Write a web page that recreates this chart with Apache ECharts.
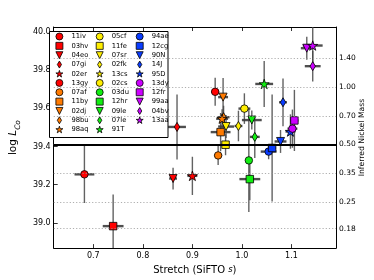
<!DOCTYPE html>
<html><head><meta charset="utf-8">
<script src="https://cdn.jsdelivr.net/npm/echarts@6/dist/echarts.min.js"></script>
<style>html,body{margin:0;padding:0;background:#fff}#c{width:374px;height:280px}</style>
</head><body><div id="c"></div>
<script>
// ---------------- data ----------------
const snNames = ['11iv','03hv','04eo','07gi','02er','13gy','07af','11by','02dj','98bu','98aq',
  '05cf','11fe','07sr','02fk','13cs','02cs','03du','12hr','09le','07le','91T',
  '94ae','12cg','90N','14J','95D','13dy','12fr','99aa','04bv','13aa'];
const stretch = [0.682,0.740,0.861,0.869,0.900,0.946,0.952,0.957,0.962,0.963,0.960,
  1.005,0.967,0.968,0.993,null,null,1.014,1.016,1.020,1.026,1.045,
  1.054,1.061,1.078,1.083,1.098,1.102,1.106,1.131,1.143,1.143];
const stretchErr = [0.020,0.021,0.008,0.018,0.010,0.008,0.008,0.020,0.010,0.012,0.012,
  0.012,0.008,0.016,0.008,null,null,0.006,0.021,0.020,0.010,0.018,
  0.016,0.008,0.012,0.008,0.010,0.010,0.008,0.012,0.016,0.020];
const logLCo = [39.254,38.983,39.232,39.502,39.246,39.686,39.353,39.475,39.658,39.553,39.545,
  39.598,39.409,39.504,39.507,null,null,39.327,39.229,39.538,39.450,39.727,
  39.373,39.392,39.426,39.631,39.478,39.493,39.536,39.914,39.820,39.928];
const logLCoErr = [0.150,0.165,0.057,0.170,0.100,0.073,0.050,0.100,0.100,0.060,0.050,
  0.080,0.055,0.060,0.080,null,null,0.270,0.110,0.050,0.110,0.120,
  0.040,0.280,0.060,0.125,0.090,0.100,0.160,0.060,0.080,0.100];
const stretchTicks = [0.7,0.8,0.9,1.0,1.1];
const logLTicks = [39.0,39.2,39.4,39.6,39.8,40.0];
const niMassTicks = [0.18,0.25,0.35,0.50,0.70,1.00,1.40];
const niMassReference = 0.50;
const logLPerSolarNi = 39.712;
const stretchRange = [0.62, 1.19];
const logLRange = [38.868, 40.025];

// ---------------- style ----------------
const FONT = 'DejaVu Sans';
const palette = ['#ff0000','#ff7a00','#ffee00','#11ee11','#0a3cff','#cc00ff'];
const groupSizes = [6,5,6,5,5,5];
const STAR = 'path://M50,0L61.23,34.55L97.55,34.55L68.17,55.9L79.39,90.45L50,69.1L20.61,90.45L31.83,55.9L2.45,34.55L38.77,34.55Z';
const TRI = 'path://M0,0L2,0L1,2Z';
const THIN = 'path://M3,0L6,5L3,10L0,5Z';
const shapes = ['circle','rect',TRI,THIN,STAR];
const shapeSizes = [7.5,7.5,8,9,10];

const styleOf = [];
groupSizes.forEach((n, g) => { for (let k = 0; k < n; k++) styleOf.push({color: palette[g], shape: k % 5}); });

const inList = (arr, v) => arr.some(t => Math.abs(t - v) < 1e-6);

const scatterSeries = snNames.map((name, i) => ({
  type: 'scatter', name: name, z: 3,
  symbol: shapes[styleOf[i].shape],
  symbolSize: shapeSizes[styleOf[i].shape],
  symbolKeepAspect: true,
  itemStyle: {color: styleOf[i].color, borderColor: '#000', borderWidth: 0.8, opacity: 1},
  emphasis: {disabled: true},
  data: stretch[i] == null ? [] : [[stretch[i], logLCo[i]]]
}));

const errData = [];
snNames.forEach((n, i) => { if (stretch[i] != null) errData.push([stretch[i], logLCo[i], stretchErr[i], logLCoErr[i]]); });

const errorSeries = {
  type: 'custom', name: 'errors', z: 2, clip: true, silent: true,
  data: errData,
  renderItem: function (params, api) {
    const x = api.value(0), y = api.value(1), ex = api.value(2), ey = api.value(3);
    const l = api.coord([x - ex, y]), r = api.coord([x + ex, y]);
    const t = api.coord([x, y + ey]), b = api.coord([x, y - ey]);
    return {type: 'group', children: [
      {type: 'line', shape: {x1: b[0], y1: b[1], x2: t[0], y2: t[1]}, style: {stroke: 'rgba(70,70,70,0.85)', lineWidth: 1.4}},
      {type: 'line', shape: {x1: l[0], y1: l[1], x2: r[0], y2: r[1]}, style: {stroke: 'rgba(60,60,60,0.9)', lineWidth: 2.4}}
    ]};
  },
  markLine: {
    silent: true, symbol: ['none','none'], animation: false,
    label: {show: true, position: 'end', distance: 3, fontSize: 7.5, fontFamily: FONT, color: '#000'},
    lineStyle: {type: [1.2, 2], color: '#999', width: 0.8},
    data: niMassTicks.map(m => ({
      yAxis: Math.log10(m) + logLPerSolarNi,
      label: {formatter: m.toFixed(2)}
    })).concat([{
      yAxis: Math.log10(niMassReference) + logLPerSolarNi,
      label: {show: false},
      lineStyle: {type: 'solid', color: '#000', width: 2}
    }])
  }
};

const cols = [snNames.slice(0, 11), snNames.slice(11, 22), snNames.slice(22)];
const colLeft = [55.5, 95.8, 135.8];

const axisCommon = {
  axisLine: {show: true, lineStyle: {color: '#000', width: 1}},
  axisTick: {show: true, inside: true, length: 4, lineStyle: {color: '#000', width: 0.8}},
  splitLine: {show: false}
};

const chart = echarts.init(document.getElementById('c'), null, {renderer: 'canvas'});
chart.setOption({
  animation: false,
  backgroundColor: '#fff',
  grid: {left: 47, top: 27, width: 290, height: 225, show: false},
  graphic: [{
    type: 'rect', z: 3, silent: true,
    shape: {x: 49.5, y: 31.5, width: 118.5, height: 106},
    style: {fill: '#fff', stroke: '#000', lineWidth: 1}
  }],
  legend: cols.map((c, k) => ({
    data: c.map(n => ({name: n, symbolKeepAspect: true})),
    orient: 'vertical', left: colLeft[k], top: 32.6, z: 5,
    itemWidth: 7, itemHeight: 7, itemGap: 1.55, padding: 0,
    symbolKeepAspect: true,
    selectedMode: false,
    itemStyle: {borderColor: '#000', borderWidth: 0.8},
    textStyle: {fontSize: 6.8, fontFamily: FONT, color: '#000', padding: [0, 0, 0, 3.5]}
  })),
  xAxis: [
    Object.assign({
      type: 'value', min: stretchRange[0], max: stretchRange[1], splitNumber: 5, position: 'bottom',
      axisLabel: {fontSize: 8, fontFamily: FONT, color: '#000', margin: 4, showMinLabel: false, showMaxLabel: false,
        formatter: v => inList(stretchTicks, v) ? v.toFixed(1) : ''},
      name: '{n|Stretch (SiFTO }{i|s}{n|)}', nameLocation: 'middle', nameGap: 12,
      nameTextStyle: {rich: {
        n: {fontSize: 10, fontFamily: FONT, color: '#000'},
        i: {fontSize: 8.5, fontFamily: FONT, fontStyle: 'italic', color: '#000'}
      }}
    }, axisCommon),
    Object.assign({
      type: 'value', min: stretchRange[0], max: stretchRange[1], splitNumber: 5, position: 'top',
      axisLabel: {show: false}
    }, axisCommon)
  ],
  yAxis: [
    Object.assign({
      type: 'value', min: logLRange[0], max: logLRange[1], splitNumber: 5, position: 'left',
      axisLabel: {fontSize: 8, fontFamily: FONT, color: '#000', margin: 3, showMinLabel: false, showMaxLabel: false,
        formatter: v => inList(logLTicks, v) ? v.toFixed(1) : ''},
      name: '{n|log }{i|L}{s|Co}', nameLocation: 'middle', nameRotate: 90, nameGap: 25,
      nameTextStyle: {rich: {
        n: {fontSize: 10.5, fontFamily: FONT, color: '#000', lineHeight: 14, verticalAlign: 'bottom'},
        i: {fontSize: 10.5, fontFamily: FONT, fontStyle: 'italic', color: '#000', lineHeight: 14, verticalAlign: 'bottom'},
        s: {fontSize: 7.5, fontFamily: FONT, fontStyle: 'italic', color: '#000', lineHeight: 14, verticalAlign: 'bottom', padding: [0, 0, -3, 0]}
      }}
    }, axisCommon),
    {
      type: 'value', min: logLRange[0], max: logLRange[1], position: 'right',
      axisLine: {show: true, lineStyle: {color: '#000', width: 1}},
      axisTick: {show: false}, axisLabel: {show: false}, splitLine: {show: false},
      name: 'Inferred Nickel Mass', nameLocation: 'middle', nameRotate: 90, nameGap: 22,
      nameTextStyle: {fontSize: 7.7, fontFamily: FONT, color: '#000'}
    }
  ],
  series: [errorSeries].concat(scatterSeries)
});
</script>
</body></html>
